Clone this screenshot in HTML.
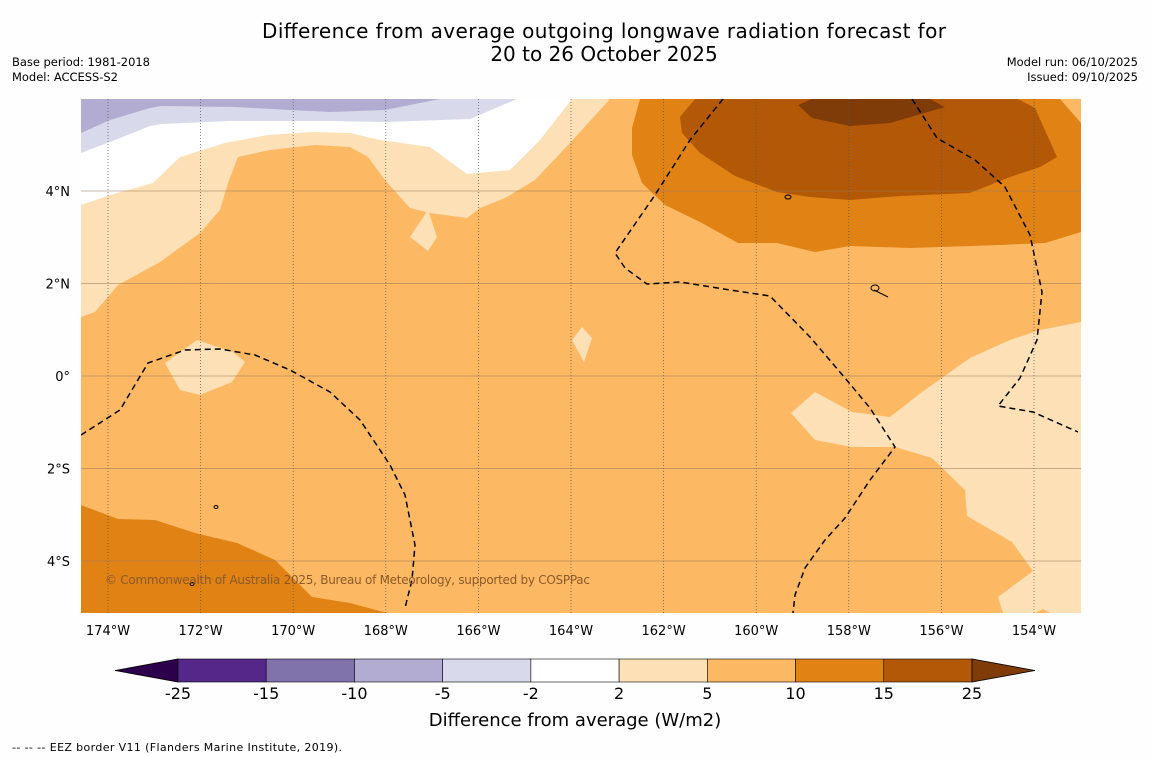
<!DOCTYPE html>
<html><head><meta charset="utf-8">
<style>
body{margin:0;background:#fff;width:1150px;height:758px;overflow:hidden;font-family:"Liberation Sans","DejaVu Sans",sans-serif;}
svg{display:block}
</style></head>
<body>
<svg id="chart" width="1150" height="758" viewBox="0 0 1150 758" xmlns="http://www.w3.org/2000/svg">
<rect width="1150" height="758" fill="#fefefe"/>
<text x="604" y="38" text-anchor="middle" font-size="20" textLength="684" font-family="DejaVu Sans, sans-serif" fill="#000">Difference from average outgoing longwave radiation forecast for</text>
<text x="604" y="61" text-anchor="middle" font-size="20" font-family="DejaVu Sans, sans-serif" fill="#000">20 to 26 October 2025</text>
<text x="12" y="66" font-size="11.5" textLength="138" font-family="DejaVu Sans, sans-serif">Base period: 1981-2018</text>
<text x="12" y="81" font-size="11.5" textLength="106" font-family="DejaVu Sans, sans-serif">Model: ACCESS-S2</text>
<text x="1138" y="66" text-anchor="end" font-size="11.5" font-family="DejaVu Sans, sans-serif">Model run: 06/10/2025</text>
<text x="1138" y="81" text-anchor="end" font-size="11.5" font-family="DejaVu Sans, sans-serif">Issued: 09/10/2025</text>
<defs><clipPath id="mapclip"><rect x="81" y="99" width="1000" height="514"/></clipPath></defs>
<g id="map" clip-path="url(#mapclip)">
<rect x="81" y="99" width="1000" height="514" fill="#fdb863"/>
<polygon fill="#fee0b6" points="81,317 95,312 118,285 160,262 200,233 220,210 228,183 238,157 270,150 315,145 350,147 368,157 385,180 410,208 430,213 467,218 480,208 505,198 535,180 570,143 610,99 81,99"/>
<polygon fill="#ffffff" points="81,205 110,195 153,183 180,157 225,143 268,135 313,132 350,133 380,140 430,147 467,174 510,170 540,140 572,99 81,99"/>
<polygon fill="#d8daeb" points="81,153 115,140 150,126 162,124 230,121 330,121 385,122 470,119 517,99 81,99"/>
<polygon fill="#b2abd2" points="81,133 110,120 150,108 162,106 235,107 290,110 330,112 385,110 440,99 81,99"/>
<polygon fill="#fee0b6" points="410,237 428,210 437,237 428,251"/>
<polygon fill="#fee0b6" points="572,340 582,327 592,338 584,362"/>
<polygon fill="#fee0b6" points="165,363 197,340 233,352 245,362 232,382 200,395 180,390"/>
<polygon fill="#fee0b6" points="791,413 815,392 852,412 890,417 922,392 970,358 1010,340 1040,330 1081,322 1081,613 1050,613 1043,609 1035,613 1003,613 998,597 1033,571 1012,542 967,516 965,490 932,458 895,447 852,447 815,440"/>
<polygon fill="#e08214" points="640,99 632,128 632,155 642,183 665,205 700,222 738,243 777,243 815,252 850,246 910,248 1000,245 1045,243 1081,232 1081,123 1060,99"/>
<polygon fill="#b35806" points="695,99 680,117 682,133 700,153 735,176 777,192 810,197 850,200 900,196 970,193 1010,177 1040,167 1057,157 1035,108 1018,99"/>
<polygon fill="#7f3b08" points="812,99 798,105 812,118 850,126 890,123 945,107 930,99"/>
<polygon fill="#e08214" points="81,505 118,519 155,520 195,533 237,543 275,560 312,597 350,603 387,613 81,613"/>
<g id="grid"></g>
<g fill="none" stroke="#000" stroke-width="1.5" stroke-dasharray="6,4">
<polyline points="81,435 120,410 148,363 185,350 220,349 255,355 290,370 330,392 360,420 390,465 405,495 415,545 412,580 405,608"/>
<polyline points="723,99 690,140 655,195 615,253 625,268 647,284 680,282 730,290 770,296 810,337 845,378 870,408 895,447 870,480 845,518 825,540 805,568 795,595 793,613"/>
<polyline points="912,99 937,138 975,160 1005,187 1030,235 1042,292 1037,340 1020,378 998,406 1033,412 1078,432"/>
</g>
<g fill="none" stroke="#000" stroke-width="1">
<ellipse cx="788" cy="197" rx="3" ry="2"/><ellipse cx="875" cy="288" rx="4" ry="3"/><path d="M874,290 L888,297"/>
<ellipse cx="216" cy="507" rx="2" ry="1.5"/><ellipse cx="192" cy="584" rx="2" ry="1.5"/>
</g>
<text x="105" y="584" font-size="12" textLength="485" fill="#8a5a2a" font-family="DejaVu Sans, sans-serif">© Commonwealth of Australia 2025, Bureau of Meteorology, supported by COSPPac</text>
</g>
<g id="axes"></g>
<g id="colorbar"></g>
<text x="575" y="726" text-anchor="middle" font-size="18" font-family="DejaVu Sans, sans-serif">Difference from average (W/m2)</text>
<text x="12" y="751" font-size="11" textLength="330" font-family="DejaVu Sans, sans-serif">--  --  -- EEZ border V11 (Flanders Marine Institute, 2019).</text>
</svg>
<script>
const lonTicks = [-174,-172,-170,-168,-166,-164,-162,-160,-158,-156,-154];
const latTicks = [4,2,0,-2,-4];
const levelLabels = ["-25","-15","-10","-5","-2","2","5","10","15","25"];
const levelColors = ["#542788","#8073ac","#b2abd2","#d8daeb","#ffffff","#fee0b6","#fdb863","#e08214","#b35806"];
const underColor = "#2d004b";
const overColor = "#7f3b08";
const NS="http://www.w3.org/2000/svg";
function xLon(l){return 108+(l+174)*46.3;}
function yLat(l){return 376-l*46.25;}
function mk(t,a,p){const e=document.createElementNS(NS,t);for(const k in a)e.setAttribute(k,a[k]);p.appendChild(e);return e;}
const grid=document.getElementById('grid'),axes=document.getElementById('axes'),cb=document.getElementById('colorbar');
lonTicks.forEach(l=>{
 const x=xLon(l);
 const ln=mk('line',{x1:x,x2:x,y1:99,y2:613,stroke:'#555','stroke-width':0.7,'stroke-dasharray':'1,2'},grid);
 
 
 const t=mk('text',{x:x,y:635,'text-anchor':'middle','font-size':13,'font-family':'DejaVu Sans, sans-serif'},axes);
 t.textContent=Math.abs(l)+'°'+(l<0?'W':'E');
 
 
});
latTicks.forEach(l=>{
 const y=yLat(l);
 const ln=mk('line',{x1:81,x2:1081,y1:y,y2:y,stroke:'#9a7a5a','stroke-width':0.8,opacity:0.7},grid);
 
 
 const t=mk('text',{x:70,y:y+5,'text-anchor':'end','font-size':13,'font-family':'DejaVu Sans, sans-serif'},axes);
 t.textContent=l===0?'0°':Math.abs(l)+'°'+(l>0?'N':'S');
 
 
});
const cx0=178,cx1=972,cy=659,ch=23,n=levelColors.length,w=(cx1-cx0)/n;
function xLevel(i){return cx0+i*w;}
const u=mk('polygon',{points:`115,${cy+ch/2} ${cx0},${cy} ${cx0},${cy+ch}`,fill:underColor,stroke:'#000','stroke-width':0.8},cb);


levelColors.forEach((c,i)=>{
 const r=mk('rect',{x:xLevel(i),y:cy,width:w,height:ch,fill:c,stroke:'#000','stroke-width':0.6},cb);
 
 
});
const o=mk('polygon',{points:`1035,${cy+ch/2} ${cx1},${cy} ${cx1},${cy+ch}`,fill:overColor,stroke:'#000','stroke-width':0.8},cb);


levelLabels.forEach((s,i)=>{
 const t=mk('text',{x:xLevel(i),y:699,'text-anchor':'middle','font-size':16,'font-family':'DejaVu Sans, sans-serif'},cb);
 t.textContent=s;
 
 
});
</script>
</body></html>
